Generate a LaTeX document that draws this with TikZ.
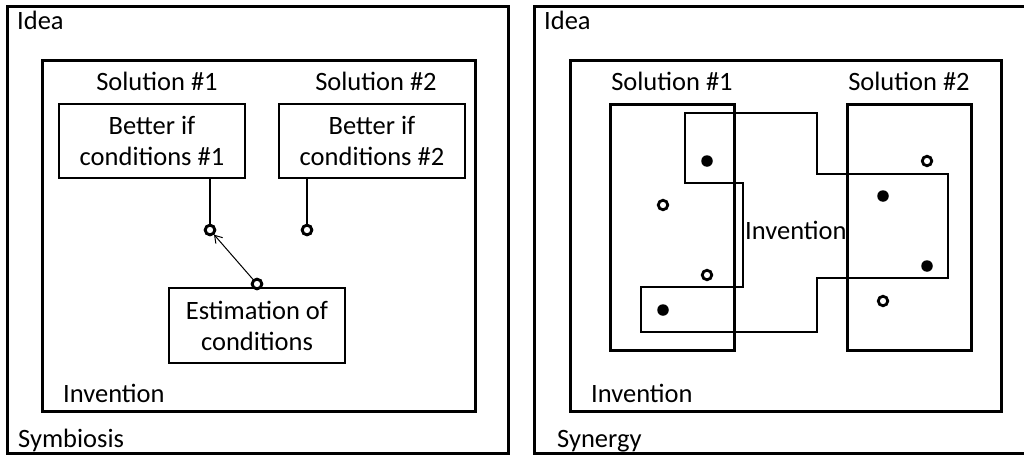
\documentclass[tikz,border=0pt]{standalone}
\usepackage{fontspec}
\setmainfont{Carlito}
\usetikzlibrary{arrows.meta}
\begin{document}
\begin{tikzpicture}[x=1pt,y=-1pt,
  lbl/.style={font=\fontsize{26.5}{31}\selectfont, inner sep=0pt},
  heavy/.style={draw, line width=3pt},
  lightbox/.style={draw, line width=1.6pt, inner sep=0pt, align=center,
    font=\fontsize{26.5}{31}\selectfont},
  solbox/.style={draw, line width=3pt, inner sep=0pt, minimum width=124pt, minimum height=246pt},
  ring/.style={circle, draw, fill=white, line width=2.8pt, inner sep=0pt, minimum size=9.5pt},
  dot/.style={circle, fill=black, inner sep=0pt, minimum size=11.5pt},
  wire/.style={line width=1.6pt},
]
\useasboundingbox (0,0) rectangle (1024,455);
\begin{scope}
\clip (0,0) rectangle (1024,455);
% ---------------- left panel: Symbiosis ----------------
\draw[heavy] (7.5,6.5) rectangle (508,453);
\draw[heavy] (42.5,60) rectangle (475,411);
\node[lbl, anchor=base west] (ideaL) at (17,29) {Idea};
\node[lbl, anchor=base west] (symb) at (18,447) {Symbiosis};
\node[lbl, anchor=base west] (invL) at (63,402) {Invention};
\node[lbl, anchor=base] (solL1) at (157,90) {Solution \#1};
\node[lbl, anchor=base] (solL2) at (376,90) {Solution \#2};
\node[lightbox, minimum width=186pt, minimum height=74pt] (b1) at (152,141) {Better if\\conditions \#1};
\node[lightbox, minimum width=186pt, minimum height=74pt] (b2) at (372,141) {Better if\\conditions \#2};
\node[lightbox, minimum width=176pt, minimum height=75pt] (est) at (257,325.5) {Estimation of\\conditions};
\node[ring] (c1) at (210,230) {};
\node[ring] (c2) at (307,230) {};
\node[ring] (c3) at (257,284) {};
\draw[wire] (b1.south -| c1) -- (c1);
\draw[wire] (b2.south -| c2) -- (c2);
\draw[line width=1pt, -{Straight Barb[length=7pt, width=9pt]}] (c3) -- (c1);
\node[ring] at (c1) {};
\node[ring] at (c2) {};
\node[ring] at (c3) {};
% ---------------- right panel: Synergy ----------------
\draw[heavy] (534,6.5) rectangle (1030,453);
\draw[heavy] (570,60) rectangle (1001,411);
\node[lbl, anchor=base west] (ideaR) at (544,29) {Idea};
\node[lbl, anchor=base west] (syn) at (557,447) {Synergy};
\node[lbl, anchor=base west] (invR) at (591,402) {Invention};
\node[lbl, anchor=base] (solR1) at (672,90) {Solution \#1};
\node[lbl, anchor=base] (solR2) at (909,90) {Solution \#2};
\node[solbox] (s1) at (672,227) {};
\node[solbox] (s2) at (909.5,227) {};
\draw[wire] (685,113) -- (817,113) -- (817,174) -- (948,174) -- (948,278)
  -- (817,278) -- (817,332) -- (641,332) -- (641,287) -- (743,287)
  -- (743,183) -- (685,183) -- cycle;
\node[lbl, anchor=base west] (invM) at (745,239) {Invention};
\node[dot] (d1) at (707,161) {};
\node[dot] (d2) at (663,310) {};
\node[dot] (d3) at (883,196) {};
\node[dot] (d4) at (927,266) {};
\node[ring] (r1) at (663,205) {};
\node[ring] (r2) at (707,275) {};
\node[ring] (r3) at (927,161) {};
\node[ring] (r4) at (883,301) {};
\end{scope}
\end{tikzpicture}
\end{document}
